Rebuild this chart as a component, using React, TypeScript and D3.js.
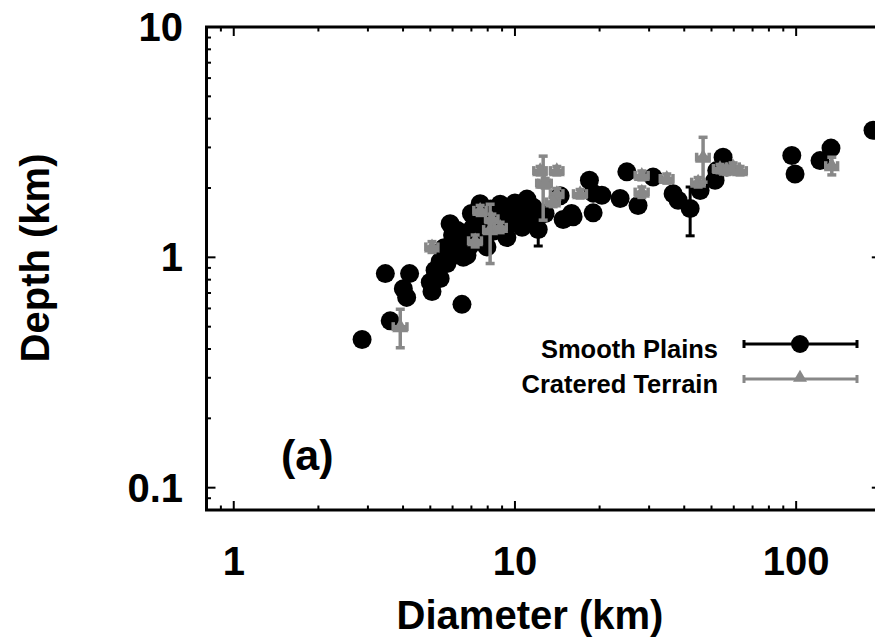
import React from 'react';
import * as d3 from 'd3';

// ---- data ----
const xTickValues = [1, 10, 100];
const xTickLabels = ['1', '10', '100'];
const yTickValues = [0.1, 1, 10];
const yTickLabels = ['0.1', '1', '10'];
const seriesNames = ['Smooth Plains', 'Cratered Terrain'];

const smoothDiameter = [2.86, 3.46, 3.6, 4.01, 4.12, 4.22, 5.07, 5.42, 6.48, 5.42, 5.73, 5.88, 6.03, 5.88, 6.22, 6.55, 6.75, 6.93, 7.52, 7.71, 7.95, 8.86, 9.36, 9.62, 9.08, 11.03, 11.32, 12.1, 14.48, 14.84, 15.9, 16.1, 18.4, 18.97, 18.97, 20.37, 23.66, 25.0, 27.4, 30.99, 36.51, 38.04, 41.98, 45.55, 51.48, 52.2, 54.97, 56.66, 96.5, 99.1, 121.6, 133.0, 187.7,
  5.6, 6.3, 6.0, 6.6, 7.1, 7.4, 7.0, 8.0, 8.4, 8.2, 9.8, 10.3, 10.6, 11.6, 12.8, 10.0, 5.2, 5.0, 6.9, 7.8];
const smoothDepth = [0.44, 0.85, 0.53, 0.73, 0.67, 0.85, 0.71, 0.81, 0.625, 0.96, 0.94, 1.0, 1.07, 1.4, 1.31, 1.0, 1.02, 1.22, 1.71, 1.35, 1.11, 1.7, 1.22, 1.4, 1.45, 1.79, 1.46, 1.32, 1.85, 1.46, 1.55, 1.5, 2.16, 1.9, 1.56, 1.86, 1.8, 2.35, 1.68, 2.23, 1.89, 1.77, 1.63, 1.95, 2.16, 2.38, 2.72, 2.47, 2.77, 2.3, 2.63, 2.98, 3.56,
  1.1, 1.15, 1.25, 1.25, 1.35, 1.45, 1.55, 1.5, 1.3, 1.62, 1.55, 1.6, 1.35, 1.65, 1.55, 1.72, 0.88, 0.78, 1.12, 1.2];
const smoothDepthErr = [0, 0, 0, 0, 0, 0, 0, 0, 0, 0, 0, 0, 0, 0, 0, 0, 0, 0, 0, 0, 0, 0, 0, 0, 0, 0, 0, 0.2, 0, 0, 0, 0, 0, 0, 0, 0, 0, 0, 0, 0, 0, 0, 0.39, 0, 0.12, 0, 0, 0, 0, 0, 0.15, 0, 0,
  0, 0, 0, 0, 0, 0, 0, 0, 0, 0, 0, 0, 0, 0, 0, 0, 0, 0, 0, 0];

const crateredDiameter = [3.91, 5.07, 7.22, 7.52, 8.16, 8.28, 8.86, 12.6, 12.29, 14.09, 12.81, 14.09, 13.67, 17.05, 28.26, 28.26, 34.67, 44.81, 46.67, 53.6, 56.66, 59.67, 63.18, 133.9];
const crateredDepth = [0.5, 1.11, 1.18, 1.6, 1.32, 1.47, 1.35, 2.1, 2.38, 2.38, 2.1, 1.89, 1.74, 1.89, 2.27, 1.92, 2.2, 2.12, 2.72, 2.43, 2.39, 2.47, 2.38, 2.5];
const crateredDiameterErr = [0.22, 0.25, 0.38, 0.38, 0.42, 0.42, 0.45, 0.65, 0.62, 0.72, 0.65, 0.72, 0.7, 0.9, 1.5, 1.5, 1.8, 2.3, 2.4, 2.8, 3.0, 3.1, 3.3, 6.5];
const crateredDepthErr = [0.095, 0.06, 0.07, 0.08, 0.38, 0.07, 0.07, 0.65, 0.1, 0.1, 0.1, 0.1, 0.08, 0.08, 0.1, 0.1, 0.1, 0.1, 0.6, 0.1, 0.1, 0.1, 0.1, 0.22];

const GRAY = '#888888';
const FONT = '"Liberation Sans", Arial, Helvetica, sans-serif';

export default function App() {
  const W = 875, H = 644;
  const left = 206.5, right = 880.8, top = 27, bottom = 510;
  const x = d3.scaleLog().domain([0.8, 200]).range([left, right]);
  const y = d3.scaleLog().domain([0.08, 10]).range([bottom, top]);

  const minorX: number[] = [];
  [0.1, 1, 10, 100].forEach((dec) => {
    for (let m = 2; m <= 9; m++) {
      const v = dec * m;
      if (v > 0.8 && v < 200) minorX.push(v);
    }
  });
  const minorY: number[] = [];
  [0.01, 0.1, 1].forEach((dec) => {
    for (let m = 2; m <= 9; m++) {
      const v = dec * m;
      if (v > 0.08 && v < 10) minorY.push(v);
    }
  });

  const major = 9, minor = 4.5;
  const cap = 4.5;

  const circle = (cx: number, cy: number, r = 9.5, key?: any) => (
    <circle key={key} cx={cx} cy={cy} r={r} fill="#000" />
  );
  const tri = (cx: number, cy: number, s = 16, key?: any) => {
    const h = s * 0.87;
    return (
      <path key={key} d={`M${cx},${cy - h * 0.6}L${cx + s / 2},${cy + h * 0.4}L${cx - s / 2},${cy + h * 0.4}Z`} fill={GRAY} />
    );
  };

  return (
    <svg width={W} height={H} style={{ position: 'absolute', left: 0, top: 0, background: '#fff' }} fontFamily={FONT}>
      <rect x={0} y={0} width={W} height={H} fill="#fff" />
      {/* ticks */}
      <g stroke="#000" strokeWidth={2}>
        {xTickValues.map((v) => (
          <g key={'xm' + v}>
            <line x1={x(v)} x2={x(v)} y1={bottom} y2={bottom - major} />
            <line x1={x(v)} x2={x(v)} y1={top} y2={top + major} />
          </g>
        ))}
        {minorX.map((v) => (
          <g key={'xn' + v}>
            <line x1={x(v)} x2={x(v)} y1={bottom} y2={bottom - minor} />
            <line x1={x(v)} x2={x(v)} y1={top} y2={top + minor} />
          </g>
        ))}
        {yTickValues.map((v) => (
          <g key={'ym' + v}>
            <line x1={left} x2={left + major} y1={y(v)} y2={y(v)} />
            <line x1={right} x2={right - major} y1={y(v)} y2={y(v)} />
          </g>
        ))}
        {minorY.map((v) => (
          <g key={'yn' + v}>
            <line x1={left} x2={left + minor} y1={y(v)} y2={y(v)} />
            <line x1={right} x2={right - minor} y1={y(v)} y2={y(v)} />
          </g>
        ))}
      </g>
      <rect x={left} y={top} width={right - left} height={bottom - top} fill="none" stroke="#000" strokeWidth={3} />

      {/* tick labels */}
      <g fontSize={40} fontWeight="bold" fill="#000">
        {xTickValues.map((v, i) => (
          <text key={'xl' + v} x={x(v)} y={575} textAnchor="middle">{xTickLabels[i]}</text>
        ))}
        {yTickValues.map((v, i) => (
          <text key={'yl' + v} x={183} y={y(v) + 14} textAnchor="end">{yTickLabels[i]}</text>
        ))}
      </g>
      <text x={530} y={629} fontSize={40} fontWeight="bold" textAnchor="middle">Diameter (km)</text>
      <text transform="translate(49,258) rotate(-90)" fontSize={40} fontWeight="bold" textAnchor="middle">Depth (km)</text>
      <text x={281} y={470} fontSize={43} fontWeight="bold">(a)</text>

      {/* Smooth Plains */}
      <g>
        {smoothDiameter.map((d, i) => {
          const cx = x(d), cy = y(smoothDepth[i]);
          const e = smoothDepthErr[i];
          return (
            <g key={'s' + i}>
              {e > 0 && (
                <g stroke="#000" strokeWidth={3}>
                  <line x1={cx} x2={cx} y1={y(smoothDepth[i] + e)} y2={y(smoothDepth[i] - e)} />
                  <line x1={cx - cap} x2={cx + cap} y1={y(smoothDepth[i] + e)} y2={y(smoothDepth[i] + e)} />
                  <line x1={cx - cap} x2={cx + cap} y1={y(smoothDepth[i] - e)} y2={y(smoothDepth[i] - e)} />
                </g>
              )}
              {circle(cx, cy)}
            </g>
          );
        })}
      </g>

      {/* Cratered Terrain */}
      <g>
        {crateredDiameter.map((d, i) => {
          const cx = x(d), cy = y(crateredDepth[i]);
          const ex = crateredDiameterErr[i], ey = crateredDepthErr[i];
          const x0 = x(d - ex), x1 = x(d + ex);
          const y0 = y(crateredDepth[i] + ey), y1 = y(crateredDepth[i] - ey);
          return (
            <g key={'c' + i}>
              <g stroke={GRAY} strokeWidth={3.5}>
                <line x1={cx} x2={cx} y1={y0} y2={y1} />
                <line x1={cx - cap} x2={cx + cap} y1={y0} y2={y0} />
                <line x1={cx - cap} x2={cx + cap} y1={y1} y2={y1} />
                <line x1={x0} x2={x1} y1={cy} y2={cy} />
                <line x1={x0} x2={x0} y1={cy - cap} y2={cy + cap} />
                <line x1={x1} x2={x1} y1={cy - cap} y2={cy + cap} />
              </g>
              {tri(cx, cy)}
            </g>
          );
        })}
      </g>

      {/* legend */}
      <g fontSize={25.5} fontWeight="bold">
        <text x={718} y={358} textAnchor="end">{seriesNames[0]}</text>
        <text x={718} y={393} textAnchor="end">{seriesNames[1]}</text>
        <g stroke="#000" strokeWidth={3}>
          <line x1={744} x2={857} y1={344} y2={344} />
          <line x1={744} x2={744} y1={340} y2={348} />
          <line x1={857} x2={857} y1={340} y2={348} />
        </g>
        {circle(800, 344, 9)}
        <g stroke={GRAY} strokeWidth={3}>
          <line x1={744} x2={857} y1={379} y2={379} />
          <line x1={744} x2={744} y1={375} y2={383} />
          <line x1={857} x2={857} y1={375} y2={383} />
        </g>
        {tri(800, 377, 14)}
      </g>
    </svg>
  );
}
